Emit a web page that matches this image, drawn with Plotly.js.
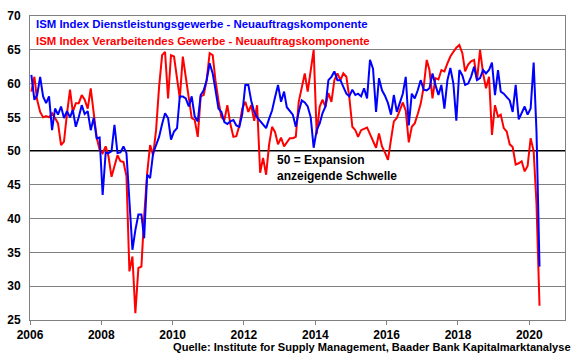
<!DOCTYPE html>
<html>
<head>
<meta charset="utf-8">
<script src="https://cdn.plot.ly/plotly-3.0.1.min.js"></script>
<style>
html,body{margin:0;padding:0;background:#fff;}
#chart{width:580px;height:359px;}
</style>
</head>
<body>
<div id="chart"></div>
<script>
// Monthly values, Jan 2006 .. Apr 2020
var startYear = 2006;
var seriesNames = [
  "ISM Index Dienstleistungsgewerbe - Neuauftragskomponente",
  "ISM Index Verarbeitendes Gewerbe - Neuauftragskomponente"
];
var services = [
  61.3, 57.6, 58.3, 61.0, 58.1, 57.1, 58.1, 53.1, 56.3, 55.4, 56.6, 54.9,
  55.9, 55.0, 56.1, 53.6, 55.0, 56.8, 55.5, 55.9, 53.1, 54.9, 51.9, 52.0,
  43.5, 49.8, 49.7, 50.0, 53.9, 49.7, 49.8, 50.7, 49.7, 43.3, 35.4, 38.3,
  40.6, 40.6, 37.1, 46.5, 46.0, 49.7, 50.9, 52.1, 54.0, 55.6, 54.9, 51.7,
  52.9, 53.4, 58.1, 58.1, 57.8, 56.6, 58.1, 55.1, 54.4, 58.3, 59.0, 60.5,
  63.0, 61.5, 59.1, 56.3, 55.8, 54.3, 54.0, 54.4, 54.6, 53.8, 53.6, 55.5,
  59.8, 59.8, 57.5, 55.8, 55.0, 54.4, 53.9, 53.4, 54.8, 56.0, 58.0, 59.8,
  57.3, 58.8, 56.5, 56.0, 55.4, 53.6, 55.8, 57.5, 57.2, 56.6, 55.0, 50.5,
  53.1, 54.1, 55.6, 56.6, 60.5, 61.0, 61.8, 60.5, 60.5, 59.5, 58.5, 58.1,
  59.1, 58.3, 58.5, 58.1, 59.3, 57.8, 63.5, 62.2, 55.8, 60.8, 59.0, 58.2,
  57.1, 55.4, 58.3, 55.8, 57.0, 58.5, 61.0, 53.8, 58.5, 57.8, 59.0, 60.5,
  59.1, 59.0, 59.3, 61.5, 59.8, 58.3, 59.8, 56.3, 60.5, 62.3, 60.0, 54.5,
  62.0, 61.2, 59.8, 60.0, 61.0, 62.5, 60.5, 60.8, 62.0, 61.5, 62.0, 63.1,
  58.3, 62.0, 58.8, 58.5, 58.0, 57.5, 55.8, 59.8, 54.7, 55.6, 56.6, 55.4,
  56.3, 63.1, 52.9, 32.9
];
var manufacturing = [
  58.8, 61.0, 57.6, 55.8, 55.0, 55.2, 55.0, 55.6, 54.9, 54.1, 50.9, 51.4,
  55.6, 59.1, 55.8, 57.1, 57.1, 58.3, 57.6, 56.3, 59.3, 55.5, 52.0, 50.2,
  49.7, 50.7, 49.2, 46.2, 47.9, 49.4, 48.5, 48.4, 46.3, 32.2, 34.4, 26.0,
  32.7, 32.9, 40.3, 46.7, 50.9, 49.4, 53.1, 59.5, 64.2, 64.7, 57.8, 64.2,
  64.0, 61.0, 57.8, 64.0, 61.0, 58.1, 54.9, 54.6, 52.1, 58.1, 58.3, 60.5,
  64.5, 64.2, 60.5, 57.5, 55.0, 54.6, 56.8, 54.0, 52.1, 52.2, 53.8, 56.3,
  57.3, 55.8, 56.8, 54.5, 56.8, 46.8, 49.0, 46.5, 51.0, 53.6, 52.8, 51.0,
  52.0, 50.7, 51.3, 51.9, 51.9, 52.1, 57.3, 59.3, 61.5, 58.8, 61.8, 65.0,
  52.5, 56.6, 57.6, 56.6, 58.6, 57.3, 60.5, 61.5, 60.5, 61.5, 61.0, 58.0,
  53.6, 53.1, 52.1, 53.1, 53.3, 53.5, 52.5, 51.5, 50.5, 52.6, 50.7, 49.8,
  48.7, 51.7, 54.4, 54.9, 56.0, 57.2, 56.0, 51.3, 53.6, 54.1, 55.5, 57.0,
  59.5, 63.5, 62.0, 57.8, 60.8, 60.6, 62.0, 61.8, 63.0, 64.0, 64.7, 65.3,
  65.7, 64.5, 61.8, 62.8, 63.3, 63.5, 60.5, 65.0, 61.5, 59.3, 61.0, 52.4,
  56.8, 55.1, 55.4, 53.4, 52.9, 51.0, 50.6, 48.0, 48.2, 48.5, 47.0, 47.8,
  51.9, 50.0, 42.2, 27.1
];
var tickYears = [2006, 2008, 2010, 2012, 2014, 2016, 2018, 2020];
var yTicks = [25, 30, 35, 40, 45, 50, 55, 60, 65, 70];
var thresholdValue = 50;
var thresholdText = "50 = Expansion<br>anzeigende Schwelle";
var sourceText = "Quelle: Institute for Supply Management, Baader Bank Kapitalmarktanalyse";

function monthDates(n) {
  var out = [];
  for (var i = 0; i < n; i++) {
    var y = startYear + Math.floor(i / 12);
    var m = (i % 12) + 1;
    out.push(y + "-" + (m < 10 ? "0" + m : m) + "-15");
  }
  return out;
}

var FONT = "Arial, 'Liberation Sans', sans-serif";
var BLUE = "#0000ff", RED = "#ff0000";

var traces = [
  {x: monthDates(manufacturing.length), y: manufacturing, type: "scatter", mode: "lines",
   name: seriesNames[1], line: {color: RED, width: 2}},
  {x: monthDates(services.length), y: services, type: "scatter", mode: "lines",
   name: seriesNames[0], line: {color: BLUE, width: 2}}
];

var layout = {
  width: 580, height: 359,
  margin: {l: 30, r: 15, t: 16, b: 39},
  paper_bgcolor: "#fff", plot_bgcolor: "#fff",
  showlegend: false,
  font: {family: FONT, size: 12, color: "#000"},
  xaxis: {
    type: "date",
    range: ["2006-01-01", "2021-01-01"],
    tickvals: tickYears.map(function (y) { return y + "-01-01"; }),
    ticktext: tickYears.map(String),
    ticks: "outside", ticklen: 4, tickcolor: "#808080",
    showgrid: false, zeroline: false,
    showline: true, linecolor: "#808080", linewidth: 1, mirror: true,
    tickfont: {family: FONT, size: 12, color: "#000", weight: "bold"}
  },
  yaxis: {
    range: [25, 70],
    tickvals: yTicks,
    ticks: "", ticklabelstandoff: 6,
    showgrid: true, gridcolor: "#808080", gridwidth: 1,
    zeroline: false,
    showline: true, linecolor: "#808080", linewidth: 1, mirror: true,
    tickfont: {family: FONT, size: 12, color: "#000", weight: "bold"}
  },
  shapes: [
    {type: "line", xref: "paper", x0: 0, x1: 1, yref: "y", y0: thresholdValue, y1: thresholdValue,
     line: {color: "#000", width: 2}, layer: "below"}
  ],
  annotations: [
    {xref: "paper", yref: "paper", x: 0.008, y: 0.974, xanchor: "left", yanchor: "middle",
     text: "<b>" + seriesNames[0] + "</b>", showarrow: false,
     font: {family: FONT, size: 11.4, color: BLUE}},
    {xref: "paper", yref: "paper", x: 0.008, y: 0.918, xanchor: "left", yanchor: "middle",
     text: "<b>" + seriesNames[1] + "</b>", showarrow: false,
     font: {family: FONT, size: 11.4, color: RED}},
    {xref: "paper", yref: "paper", x: 0.458, y: 0.499, xanchor: "left", yanchor: "middle",
     align: "left", text: "<b>" + thresholdText + "</b>", showarrow: false,
     font: {family: FONT, size: 12, color: "#000"}},
    {xref: "paper", yref: "paper", x: 1.015, y: -0.088, xanchor: "right", yanchor: "middle",
     text: "<b>" + sourceText + "</b>", showarrow: false,
     font: {family: FONT, size: 11.1, color: "#000"}}
  ]
};

Plotly.newPlot("chart", traces, layout, {displayModeBar: false, staticPlot: true});
</script>
</body>
</html>
